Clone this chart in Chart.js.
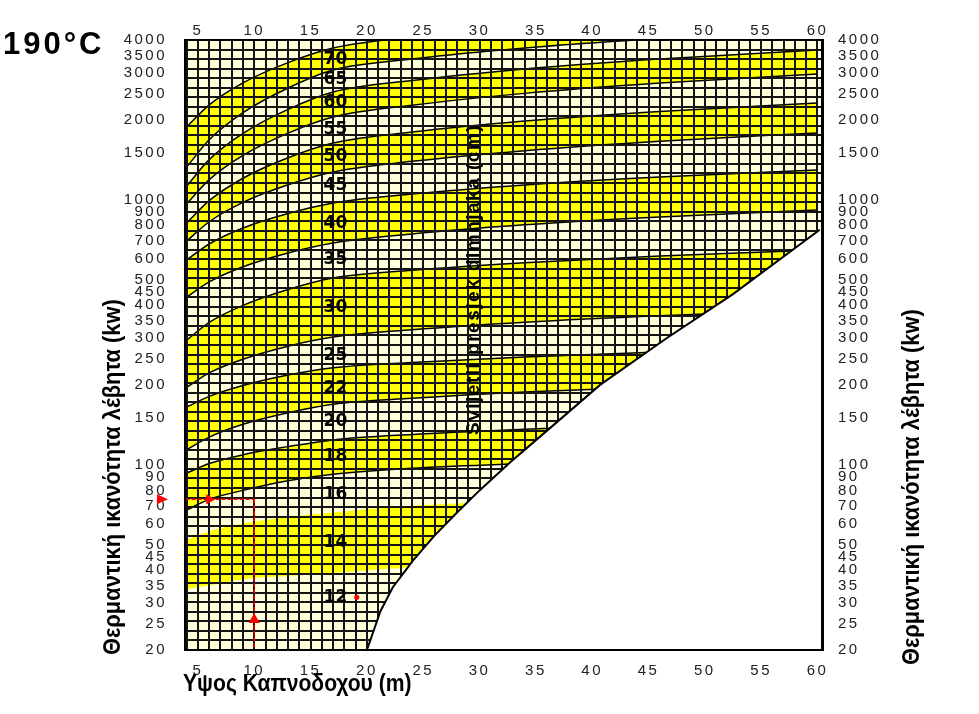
<!DOCTYPE html>
<html><head><meta charset="utf-8">
<script src="https://cdn.jsdelivr.net/npm/chart.js@4.4.1/dist/chart.umd.min.js"></script>
<style>html,body{margin:0;padding:0;background:#fff}#wrap{width:979px;height:714px;position:relative}</style>
</head><body><div id="wrap"><canvas id="c" width="979" height="714"></canvas></div>
<script>
// ---------- data ----------
const heights = [4, 6, 9, 13, 17, 24, 34, 46, 60];           // chimney height (m)
// boundary curves between diameter bands, boiler capacity (kW) at each height
const curve12_14 = [34, 35, 37, 38, 39, 41, 42, 44, 45];
const curve14_16 = [52, 56, 60, 63.5, 66, 70, 73, 76, 79];
const curve16_18 = [67.5, 74, 80, 87, 92, 97, 101, 106, 110];
const curve18_20 = [93, 101, 109, 117, 124, 130, 136, 142, 147];
const curve20_22 = [114, 127, 142, 157, 169, 178, 188, 197, 205];
const curve22_25 = [165, 181, 199, 218, 232, 243, 255, 266, 276];
const curve25_30 = [196, 222, 250, 280, 303, 323, 345, 365, 383];
const curve30_35 = [295, 344, 399, 458, 506, 541, 578, 613, 645];
const curve35_40 = [429, 489, 558, 629, 686, 742, 803, 860, 914];
const curve40_45 = [592, 680, 781, 886, 971, 1050, 1136, 1217, 1293];
const curve45_50 = [698, 825, 976, 1137, 1271, 1394, 1530, 1661, 1784];
const curve50_55 = [816, 991, 1204, 1438, 1635, 1798, 1980, 2151, 2314];
const curve55_60 = [963, 1190, 1469, 1782, 2050, 2269, 2516, 2751, 2978];
const curve60_65 = [1125, 1415, 1777, 2189, 2547, 2813, 3112, 3394, 3667];
const curve65_70 = [1327, 1681, 2127, 2636, 3083, 3389, 3731, 4056, 4364];
const curve70_up = [1879, 2277, 2758, 3287, 3731, 4102, 4517, 4911, 5283];
// lower limit (white region)
const limitH = [20, 21.2, 22.3, 24.1, 26, 28, 30, 32.7, 36.3, 40.7, 46.6, 52.5, 60.2];
const limitQ = [20, 28, 34.5, 43.6, 54, 66, 80, 102, 138, 200, 300, 440, 770];
// diameter labels (cm) and the capacity at which they sit
const diamLabels = ['70','65','60','55','50','45','40','35','30','25','22','20','18','16','14','12'];
const diamLabelQ = [3362, 2826, 2314, 1830, 1448, 1125, 809, 592, 393, 259, 193, 146, 107, 76.9, 50.7, 31.4];
const diamLabelH = 17.2;
// ticks
const xTicks = [5,10,15,20,25,30,35,40,45,50,55,60];
const yTicks = [4000,3500,3000,2500,2000,1500,1000,900,800,700,600,500,450,400,350,300,250,200,150,100,90,80,70,60,50,45,40,35,30,25,20];
// worked example (red)
const exampleQ = 74;
const exampleH = 10;
const exampleMarkH = 6;
const exampleArrowQ = 26;
const exampleOutsideH = 1.8;
const exampleDot = {H: 19.1, Q: 31.6};

const CREAM = '#FFFFDC', YELLOW = '#FFFF00', RED = '#FF0000';
const GRID_ROWS = 64;

const curves = [curve12_14, curve14_16, curve16_18, curve18_20, curve20_22, curve22_25, curve25_30, curve30_35,
  curve35_40, curve40_45, curve45_50, curve50_55, curve55_60, curve60_65, curve65_70, curve70_up];
const pts = (xs, ys) => xs.map((x, i) => ({x, y: ys[i]}));

const datasets = curves.map((c, i) => ({
  data: pts(heights, c),
  borderColor: i < 2 ? 'rgba(0,0,0,0)' : '#000',
  borderWidth: 1.5,
  pointRadius: 0,
  cubicInterpolationMode: 'monotone',
  fill: i % 2 === 1 ? '-1' : false,
  backgroundColor: YELLOW,
  order: 10
}));
const WHITE_IDX = datasets.length;
datasets.push({
  data: pts(limitH, limitQ), borderColor: '#000', borderWidth: 2, pointRadius: 0, tension: 0, fill: false, order: 5
});
datasets.push({
  data: [{x: 3.9, y: exampleQ}, {x: exampleMarkH, y: exampleQ}, {x: exampleH, y: exampleQ}],
  borderColor: RED, borderWidth: 1.5, borderDash: [4, 2], tension: 0, fill: false,
  pointRadius: [0, 4.5, 0], pointStyle: 'triangle', pointRotation: [0, 90, 0],
  pointBackgroundColor: RED, pointBorderColor: RED, order: 0
});
datasets.push({
  data: [{x: exampleH, y: exampleQ}, {x: exampleH, y: exampleArrowQ}, {x: exampleH, y: 20}],
  borderColor: RED, borderWidth: 1.5, borderDash: [4, 2], tension: 0, fill: false,
  pointRadius: [0, 5, 0], pointStyle: 'triangle', pointRotation: 0,
  pointBackgroundColor: RED, pointBorderColor: RED, order: 0
});
datasets.push({
  data: [{x: exampleDot.H, y: exampleDot.Q}], showLine: false,
  pointRadius: 2.2, pointStyle: 'circle', pointBackgroundColor: RED, pointBorderColor: RED, order: 0
});

const TICK_FONT = {family: "'Liberation Sans', Arial, sans-serif", size: 15};
const TITLE_FONT = "'Liberation Sans', Arial, sans-serif";

function narrowText(ctx, text, x, y, rot, sx) {
  ctx.save();
  ctx.translate(x, y);
  if (rot) ctx.rotate(rot);
  ctx.scale(sx, 1);
  ctx.fillText(text, 0, 0);
  ctx.restore();
}

const nomogram = {
  id: 'nomogram',
  beforeDraw(chart) { chart.ctx.letterSpacing = '2.5px'; },
  beforeDatasetsDraw(chart) {
    const ctx = chart.ctx, a = chart.chartArea;
    ctx.letterSpacing = '0px';
    const p = chart.getDatasetMeta(WHITE_IDX).data;
    ctx.save();
    ctx.beginPath();
    ctx.moveTo(a.left, a.bottom);
    p.forEach(pt => ctx.lineTo(pt.x, pt.y));
    ctx.lineTo(a.right, p[p.length - 1].y);
    ctx.lineTo(a.right, a.top);
    ctx.lineTo(a.left, a.top);
    ctx.closePath();
    ctx.clip();
    ctx.fillStyle = CREAM;
    ctx.fillRect(a.left, a.top, a.right - a.left, a.bottom - a.top);
  },
  beforeDatasetDraw(chart, args) {
    if (args.index !== WHITE_IDX) return;
    const ctx = chart.ctx, a = chart.chartArea;
    const xs = chart.scales.x, gs = chart.scales.yg;
    ctx.strokeStyle = '#141414';
    ctx.lineWidth = 2;
    ctx.beginPath();
    for (let h = 4; h <= 60; h++) {
      const x = Math.round(xs.getPixelForValue(h));
      ctx.moveTo(x, a.top); ctx.lineTo(x, a.bottom);
    }
    for (let r = 0; r <= GRID_ROWS; r++) {
      const y = Math.round(gs.getPixelForValue(r));
      ctx.moveTo(a.left, y); ctx.lineTo(a.right, y);
    }
    ctx.stroke();
    ctx.restore();
  },
  afterDatasetsDraw(chart) {
    const ctx = chart.ctx, xs = chart.scales.x, ys = chart.scales.y;
    ctx.save();
    ctx.letterSpacing = '0px';
    ctx.fillStyle = '#000';
    ctx.font = "bold 17px 'DejaVu Sans', sans-serif";
    ctx.textAlign = 'center'; ctx.textBaseline = 'middle';
    diamLabels.forEach((t, i) => ctx.fillText(t, xs.getPixelForValue(diamLabelH), ys.getPixelForValue(diamLabelQ[i])));
    ctx.letterSpacing = '1.5px';
    ctx.font = "bold 19px " + TITLE_FONT;
    narrowText(ctx, 'Svijetli presjek dimnjaka (cm)', xs.getPixelForValue(29.5), ys.getPixelForValue(500), -Math.PI / 2, 1);
    // example arrow outside the axis, pointing at the capacity scale
    const ax = xs.getPixelForValue(exampleOutsideH), ay = ys.getPixelForValue(exampleQ);
    ctx.fillStyle = RED;
    ctx.beginPath();
    ctx.moveTo(ax + 6, ay); ctx.lineTo(ax - 5, ay - 5); ctx.lineTo(ax - 5, ay + 5); ctx.closePath();
    ctx.fill();
    ctx.restore();
  },
  afterDraw(chart) {
    const ctx = chart.ctx;
    ctx.save();
    ctx.fillStyle = '#000';
    ctx.textBaseline = 'middle';
    ctx.textAlign = 'left';
    ctx.letterSpacing = '3px';
    ctx.font = "bold 31px 'Liberation Sans', Arial, sans-serif";
    ctx.fillText('190°C', 3, 45);
    ctx.letterSpacing = '0px';
    ctx.font = "bold 24px " + TITLE_FONT;
    narrowText(ctx, 'Υψος Καπνοδοχου (m)', 183, 684, 0, 0.88);
    narrowText(ctx, 'Θερμαντική ικανότητα λέβητα (kw)', 113, 655, -Math.PI / 2, 0.91);
    narrowText(ctx, 'Θερμαντική ικανότητα λέβητα (kw)', 912, 665, -Math.PI / 2, 0.91);
    ctx.restore();
  }
};

const fixTicks = vals => scale => { scale.ticks = vals.map(v => ({value: v})); };

new Chart(document.getElementById('c'), {
  type: 'line',
  data: {datasets},
  options: {
    responsive: false, animation: false,
    layout: {padding: 0},
    plugins: {legend: {display: false}, tooltip: {enabled: false}, title: {display: false}},
    scales: {
      x: {
        type: 'linear', position: 'bottom', min: 3.85, max: 60.4,
        afterBuildTicks: fixTicks(xTicks), afterFit: s => { s.height = 64; },
        grid: {display: false}, border: {display: true, color: '#000', width: 2, z: 1},
        ticks: {autoSkip: false, maxRotation: 0, padding: 4, color: '#222', font: TICK_FONT}
      },
      x2: {
        type: 'linear', position: 'top', min: 3.85, max: 60.4,
        afterBuildTicks: fixTicks(xTicks), afterFit: s => { s.height = 40; },
        grid: {display: false, drawTicks: false}, border: {display: true, color: '#000', width: 2, z: 1},
        ticks: {autoSkip: false, maxRotation: 0, padding: 0, color: '#222', font: TICK_FONT}
      },
      y: {
        type: 'logarithmic', position: 'left', min: 20, max: 4000,
        afterBuildTicks: fixTicks(yTicks), afterFit: s => { s.width = 185; },
        grid: {display: false}, border: {display: true, color: '#000', width: 2, z: 1},
        ticks: {autoSkip: false, padding: 10, color: '#222', font: TICK_FONT, callback: v => String(v)}
      },
      y2: {
        type: 'logarithmic', position: 'right', min: 20, max: 4000,
        afterBuildTicks: fixTicks(yTicks), afterFit: s => { s.width = 157; },
        grid: {display: false}, border: {display: true, color: '#000', width: 3, z: 1},
        ticks: {autoSkip: false, padding: 8, color: '#222', font: TICK_FONT, callback: v => String(v)}
      },
      yg: {type: 'linear', min: 0, max: GRID_ROWS, display: false}
    }
  },
  plugins: [nomogram]
});
</script></body></html>
